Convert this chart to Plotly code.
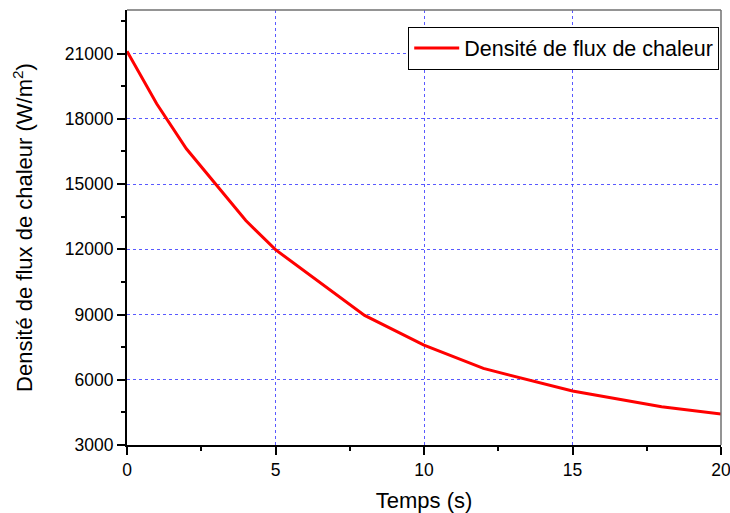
import plotly.graph_objects as go

temps = [0, 1, 2, 4, 5, 8, 10, 12, 15, 18, 20]
flux = [21100, 18690, 16620, 13320, 11980, 8960, 7590, 6520, 5480, 4760, 4420]

series_name = "Densité de flux de chaleur"
x_title = "Temps (s)"
y_title = "Densité de flux de chaleur (W/m<sup>2</sup>)"

font_family = "Liberation Sans, Arial, sans-serif"
grid_color = "rgba(60,60,255,0.85)"

fig = go.Figure()
fig.add_trace(go.Scatter(
    x=temps, y=flux, mode="lines", name=series_name,
    line=dict(color="#ff0000", width=3),
))

fig.update_layout(
    width=730, height=513,
    margin=dict(l=127, r=9, t=10, b=68, autoexpand=False),
    paper_bgcolor="white", plot_bgcolor="white",
    font=dict(family=font_family, size=17, color="black"),
    showlegend=True,
    legend=dict(
        x=0.997, y=0.962, xanchor="right", yanchor="top",
        bordercolor="black", borderwidth=1, bgcolor="white",
        font=dict(size=21.5), itemwidth=45,
        tracegroupgap=0,
    ),
)

fig.update_xaxes(
    range=[0, 20], tick0=0, dtick=5, automargin=False, ticklabeloverflow="allow",
    showline=True, linecolor="black", linewidth=2,
    ticks="outside", ticklen=8, tickwidth=2, tickcolor="black",
    minor=dict(ticks="outside", ticklen=4, tickwidth=2, tickcolor="black", dtick=2.5, tick0=0, showgrid=False),
    showgrid=True, gridcolor=grid_color, gridwidth=1, griddash="dot",
    zeroline=False,
    title=dict(text=x_title, font=dict(size=22), standoff=15),
    tickfont=dict(size=17.5),
)
fig.update_yaxes(
    range=[3000, 23000], tick0=3000, dtick=3000, tickformat="d", automargin=False,
    ticklabeloverflow="allow",
    showline=True, linecolor="black", linewidth=2,
    ticks="outside", ticklen=8, tickwidth=2, tickcolor="black",
    minor=dict(ticks="outside", ticklen=4, tickwidth=2, tickcolor="black", dtick=1500, tick0=3000, showgrid=False),
    showgrid=True, gridcolor=grid_color, gridwidth=1, griddash="dot",
    zeroline=False,
    title=dict(text=y_title, font=dict(size=22), standoff=26),
    tickfont=dict(size=17.5),
)

# gray top/right frame
fig.add_shape(type="line", xref="paper", yref="paper", x0=0, x1=1, y0=1, y1=1,
              line=dict(color="#707070", width=1.5))
fig.add_shape(type="line", xref="paper", yref="paper", x0=1, x1=1, y0=0, y1=1,
              line=dict(color="#707070", width=1.5))

fig.write_html("out.html")
